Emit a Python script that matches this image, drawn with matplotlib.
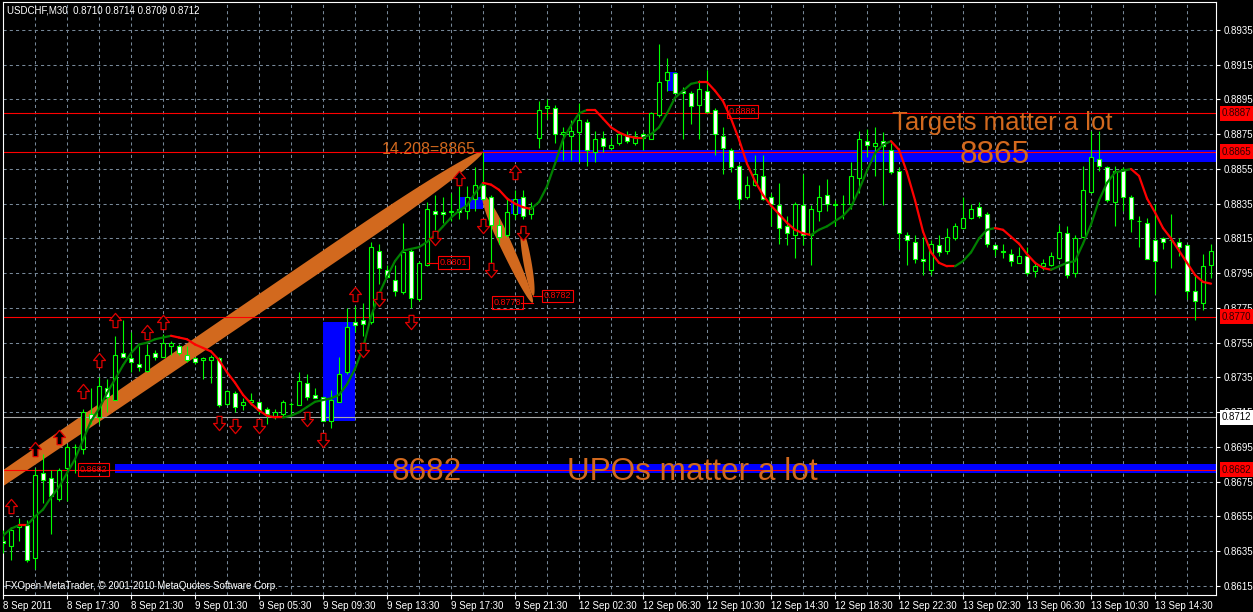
import numpy as np
import matplotlib.pyplot as plt
from matplotlib.patches import Rectangle, Polygon
from matplotlib.path import Path
from matplotlib.collections import LineCollection
from matplotlib.ticker import FormatStrFormatter
from matplotlib.transforms import blended_transform_factory

plt.rcParams['font.family'] = ['Liberation Sans', 'DejaVu Sans']

# -----------------------
# Candle data (USDCHF M30)
# -----------------------
opens = [
    .8641, .8638, .8649, .8650, .8631, .8680, .8677, .8665, .8683, .8695,
    .8694, .8714, .8712, .8729, .8722, .8749, .8746, .8743, .8739, .8749,
    .8747, .8753, .8753, .8748, .8746, .8745, .8745, .8746, .8720, .8726,
    .8719, .8721, .8721, .8717, .8713, .8714, .8720, .8719, .8732, .8725,
    .8724, .8710, .8721, .8738, .8767, .8768, .8767, .8808, .8797, .8791,
    .8784, .8808, .8780, .8800, .8831, .8830, .8830, .8832, .8831, .8838,
    .8846, .8839, .8823, .8817, .8829, .8839, .8829, .8873, .8890, .8890,
    .8875, .8874, .8876, .8882, .8865, .8873, .8867, .8870, .8874, .8870,
    .8875, .8872, .8886, .8906, .8910, .8900, .8899, .8892, .8900, .8889,
    .8874, .8866, .8857, .8839, .8846, .8851, .8839, .8834, .8822, .8817,
    .8834, .8817, .8831, .8840, .8835, .8835, .8835, .8850, .8871, .8868,
    .8871, .8866, .8854, .8817, .8813, .8803, .8797, .8811, .8808, .8815,
    .8821, .8827, .8833, .8829, .8811, .8808, .8806, .8801, .8805, .8796,
    .8799, .8800, .8804, .8818, .8795, .8816, .8842, .8861, .8856, .8836,
    .8855, .8839, .8825, .8824, .8814, .8815, .8814, .8813, .8811, .8785,
    .8778, .8800]
highs = [
    .8647, .8649, .8654, .8653, .8683, .8691, .8682, .8683, .8697, .8697,
    .8717, .8729, .8735, .8734, .8759, .8768, .8761, .8753, .8754, .8751,
    .8760, .8756, .8754, .8753, .8747, .8747, .8748, .8747, .8728, .8727,
    .8723, .8726, .8721, .8718, .8717, .8722, .8721, .8738, .8737, .8729,
    .8724, .8728, .8747, .8775, .8776, .8778, .8813, .8812, .8800, .8800,
    .8824, .8809, .8802, .8836, .8840, .8839, .8841, .8845, .8845, .8856,
    .8865, .8840, .8826, .8838, .8843, .8843, .8836, .8894, .8895, .8892,
    .8879, .8883, .8893, .8884, .8877, .8877, .8873, .8876, .8877, .8877,
    .8876, .8888, .8927, .8919, .8911, .8902, .8900, .8906, .8912, .8890,
    .8879, .8867, .8858, .8851, .8863, .8863, .8841, .8847, .8828, .8836,
    .8852, .8834, .8846, .8849, .8837, .8840, .8859, .8877, .8878, .8879,
    .8876, .8870, .8856, .8819, .8817, .8816, .8814, .8817, .8821, .8824,
    .8839, .8835, .8836, .8830, .8812, .8812, .8809, .8810, .8810, .8801,
    .8803, .8807, .8823, .8822, .8817, .8857, .8877, .8877, .8857, .8857,
    .8856, .8840, .8828, .8827, .8835, .8816, .8829, .8815, .8812, .8794,
    .8806, .8812]
lows = [
    .8634, .8630, .8641, .8629, .8625, .8663, .8645, .8664, .8664, .8680,
    .8691, .8708, .8708, .8715, .8722, .8746, .8738, .8739, .8738, .8745,
    .8747, .8748, .8748, .8744, .8743, .8734, .8732, .8718, .8719, .8715,
    .8716, .8719, .8714, .8708, .8711, .8713, .8713, .8719, .8722, .8723,
    .8710, .8706, .8721, .8737, .8761, .8759, .8766, .8789, .8792, .8782,
    .8783, .8775, .8779, .8799, .8820, .8824, .8825, .8826, .8826, .8831,
    .8837, .8795, .8812, .8816, .8826, .8826, .8826, .8867, .8884, .8870,
    .8860, .8860, .8859, .8857, .8859, .8865, .8866, .8869, .8870, .8869,
    .8866, .8872, .8885, .8900, .8899, .8872, .8881, .8872, .8887, .8863,
    .8852, .8853, .8832, .8838, .8845, .8837, .8822, .8812, .8811, .8804,
    .8811, .8800, .8825, .8831, .8822, .8826, .8832, .8841, .8862, .8851,
    .8834, .8852, .8809, .8800, .8801, .8794, .8794, .8805, .8806, .8814,
    .8821, .8826, .8827, .8810, .8805, .8804, .8799, .8801, .8794, .8793,
    .8797, .8799, .8803, .8792, .8793, .8816, .8841, .8854, .8836, .8822,
    .8831, .8819, .8810, .8803, .8783, .8809, .8798, .8805, .8780, .8768,
    .8774, .8792]
closes = [
    .8640, .8647, .8650, .8630, .8679, .8676, .8667, .8682, .8695, .8695,
    .8715, .8711, .8730, .8724, .8748, .8747, .8744, .8741, .8748, .8747,
    .8755, .8755, .8749, .8745, .8744, .8746, .8747, .8719, .8727, .8718,
    .8721, .8722, .8716, .8714, .8715, .8721, .8720, .8733, .8724, .8723,
    .8710, .8722, .8737, .8764, .8765, .8766, .8810, .8798, .8793, .8785,
    .8807, .8781, .8801, .8832, .8829, .8829, .8831, .8830, .8839, .8846,
    .8838, .8823, .8816, .8830, .8838, .8828, .8833, .8889, .8891, .8875,
    .8876, .8877, .8883, .8866, .8872, .8868, .8869, .8875, .8871, .8874,
    .8873, .8887, .8905, .8911, .8899, .8899, .8891, .8901, .8888, .8875,
    .8867, .8856, .8838, .8846, .8852, .8838, .8835, .8821, .8818, .8835,
    .8817, .8832, .8839, .8835, .8834, .8835, .8851, .8872, .8869, .8870,
    .8868, .8853, .8818, .8814, .8803, .8802, .8812, .8807, .8816, .8822,
    .8827, .8832, .8828, .8812, .8809, .8807, .8802, .8805, .8795, .8799,
    .8801, .8805, .8819, .8794, .8815, .8843, .8862, .8857, .8837, .8854,
    .8839, .8826, .8825, .8803, .8802, .8813, .8814, .8810, .8785, .8779,
    .8799, .8808]

# smoothed trend line (green rising, red falling)
ma_values = [
    .8644, .8648, .8650, .8650, .8655, .8659, .8666, .8672, .8680, .8688,
    .8699, .8710, .8717, .8726, .8734, .8742, .8749, .8754, .8755, .8757,
    .8758, .8759, .8758, .8757, .8754, .8752, .8750, .8745, .8738, .8732,
    .8725, .8720, .8716, .8713, .8712, .8712, .8713, .8715, .8718, .8721,
    .8722, .8723, .8725, .8731, .8740, .8752, .8770, .8783, .8793, .8802,
    .8808, .8809, .8810, .8813, .8817, .8822, .8827, .8831, .8834, .8841,
    .8847, .8846, .8843, .8838, .8835, .8833, .8832, .8836, .8845, .8858,
    .8872, .8880, .8887, .8889, .8889, .8884, .8879, .8876, .8874, .8873,
    .8873, .8875, .8879, .8887, .8896, .8900, .8904, .8905, .8905, .8900,
    .8894, .8884, .8872, .8858, .8848, .8840, .8834, .8829, .8824, .8820,
    .8818, .8817, .8820, .8822, .8825, .8828, .8833, .8843, .8854, .8864,
    .8869, .8871, .8866, .8853, .8837, .8819, .8807, .8801, .8799, .8799,
    .8802, .8807, .8815, .8820, .8821, .8820, .8816, .8812, .8806, .8801,
    .8798, .8797, .8799, .8801, .8802, .8812, .8823, .8837, .8847, .8853,
    .8854, .8855, .8851, .8838, .8830, .8821, .8815, .8808, .8801, .8794,
    .8790, .8789]

time_labels = ['8 Sep 2011', '8 Sep 17:30', '8 Sep 21:30', '9 Sep 01:30', '9 Sep 05:30',
               '9 Sep 09:30', '9 Sep 13:30', '9 Sep 17:30', '9 Sep 21:30', '12 Sep 02:30',
               '12 Sep 06:30', '12 Sep 10:30', '12 Sep 14:30', '12 Sep 18:30', '12 Sep 22:30',
               '13 Sep 02:30', '13 Sep 06:30', '13 Sep 10:30', '13 Sep 14:30']
price_ticks = [0.8615, 0.8635, 0.8655, 0.8675, 0.8695, 0.8715, 0.8735, 0.8755, 0.8775,
               0.8795, 0.8815, 0.8835, 0.8855, 0.8875, 0.8895, 0.8915, 0.8935]

# horizontal levels
level_lines = [0.8887, 0.8865, 0.8770, 0.8682]
bid_price = 0.8712

# blue zones: bar from, bar to, price low, price high
zones = [(40, 44, 0.8710, 0.8767), (57, 60, 0.8832, 0.8839), (63.5, 65, 0.8829, 0.8838),
         (83, 84.2, 0.8900, 0.8911), (60, 160, 0.8859, 0.8866), (14, 160, 0.8680, 0.8685)]

# orange drawn shapes: start bar, start price, end bar, end price
shape_starts = [(-30, 0.8583), (60, 0.8840), (64.8, 0.8821)]
shape_ends = [(60, 0.8865), (66.2, 0.8778), (66.3, 0.8782)]

# fractal arrows
up_bars = [1, 4, 7, 10, 12, 14, 18, 20, 44, 57, 64]
up_prices = [.8661, .8694, .8701, .8727, .8745, .8768, .8761, .8767, .8783, .8850, .8853]
down_bars = [27, 29, 32, 38, 40, 45, 47, 51, 54, 60, 61, 65]
down_prices = [.8709, .8707, .8707, .8711, .8699, .8751, .8780, .8767, .8815, .8822, .8797, .8818]

# boxed price labels on chart
tag_bars = [9.6, 54.6, 61.3, 67.6, 90.7]
tag_prices = [0.8682, 0.8801, 0.8778, 0.8782, 0.8888]
stub_from = [53, 64.8, 66.3]
stub_to = [54.4, 66.2, 67.4]
stub_prices = [0.8801, 0.8778, 0.8782]

# -----------------------
# Figure
# -----------------------
W, H = 1253, 612
fig = plt.figure(figsize=(W / 100, H / 100), dpi=100, facecolor='black')
ax = fig.add_axes([2.5 / W, 17.5 / H, 1213 / W, 592.5 / H], facecolor='black')
xmin, xmax = -0.0625, 151.56
ymin, ymax = 0.86101, 0.89511
ax.set_xlim(xmin, xmax)
ax.set_ylim(ymin, ymax)

LIME = '#00ff00'
ORANGE = '#d2691e'

# zones (background)
for b0, b1, p0, p1 in zones:
    ax.add_patch(Rectangle((b0, p0), b1 - b0, p1 - p0, facecolor='#0000ff',
                           edgecolor='none', zorder=1))

# orange tapered shapes
ppx = ax.bbox.width / (xmax - xmin)
ppy = ax.bbox.height / (ymax - ymin)
half_widths = [8.3, 6.0, 4.0]
peaks = [0.83, 0.35, 0.5]
for (b0, p0), (b1, p1), hw0, pk in zip(shape_starts, shape_ends, half_widths, peaks):
    x0, y0, x1, y1 = b0 * ppx, p0 * ppy, b1 * ppx, p1 * ppy
    s = np.linspace(0, 1, 300)
    rel = np.where(s < pk, (s - pk) / pk, (s - pk) / (1 - pk))
    hw = hw0 * np.sqrt(np.clip(1 - rel ** 2, 0, None))
    dx, dy = x1 - x0, y1 - y0
    L = np.hypot(dx, dy)
    nx, ny = -dy / L, dx / L
    cx, cy = x0 + s * dx, y0 + s * dy
    top = np.column_stack([cx + hw * nx, cy + hw * ny])
    bot = np.column_stack([cx - hw * nx, cy - hw * ny])
    pts = np.vstack([top, bot[::-1]])
    pts[:, 0] /= ppx
    pts[:, 1] /= ppy
    ax.add_patch(Polygon(pts, closed=True, facecolor=ORANGE, edgecolor='none', zorder=1.5))

# levels
for p in level_lines:
    ax.axhline(p, color='#ff0000', lw=0.8, zorder=2)
ax.axhline(bid_price, color='#a8a8a8', lw=0.8, zorder=2)

# candles
x = np.arange(len(opens))
o, h, l, c = (np.array(v) for v in (opens, highs, lows, closes))
ax.vlines(x, l, h, color=LIME, lw=0.8, zorder=3)
doji = np.isclose(o, c)
bull = (c > o) & ~doji
bear = (c < o) & ~doji
ax.bar(x[bull], (c - o)[bull], bottom=o[bull], width=0.62, facecolor='black',
       edgecolor=LIME, lw=0.8, zorder=3.5)
ax.bar(x[bear], (o - c)[bear], bottom=c[bear], width=0.62, facecolor='white',
       edgecolor=LIME, lw=0.8, zorder=3.5)
ax.hlines(o[doji], x[doji] - 0.31, x[doji] + 0.31, color=LIME, lw=0.8, zorder=3.5)

# trend line
ma = np.array(ma_values)
pts = np.column_stack([x, ma])
segs = np.stack([pts[:-1], pts[1:]], axis=1)
seg_colors = ['#ff0000' if ma[i + 1] <= ma[i] else '#008000' for i in range(len(ma) - 1)]
ax.add_collection(LineCollection(segs, colors=seg_colors, linewidths=1.6,
                                 capstyle='round', zorder=4))

# arrows
up_path = Path([(-0.17, -0.5), (0.17, -0.5), (0.17, 0.0), (0.42, 0.0), (0.0, 0.5),
                (-0.42, 0.0), (-0.17, 0.0), (-0.17, -0.5)], closed=True)
down_path = Path([(vx, -vy) for vx, vy in up_path.vertices], closed=True)
ax.scatter(up_bars, up_prices, marker=up_path, s=105, facecolor='black',
           edgecolor='#e00000', linewidths=0.9, zorder=5)
ax.scatter(down_bars, down_prices, marker=down_path, s=105, facecolor='black',
           edgecolor='#e00000', linewidths=0.9, zorder=5)

# boxed labels and stubs
for b0, b1, p in zip(stub_from, stub_to, stub_prices):
    ax.plot([b0, b1], [p, p], color='#ff0000', lw=0.8, zorder=5)
for b, p in zip(tag_bars, tag_prices):
    ax.text(b, p, f'{p:.4f}', color='#ff0000', fontsize=6.5, ha='left', va='center',
            bbox=dict(boxstyle='square,pad=0.2', facecolor='none', edgecolor='#ff0000', lw=0.8),
            zorder=6)

# orange text notes
ax.text(47.3, 0.88636, '14.208=8865', color=ORANGE, fontsize=11.5, ha='left', va='baseline', zorder=6)
ax.text(111.1, 0.88774, 'Targets matter a lot', color=ORANGE, fontsize=18.5, ha='left',
        va='baseline', zorder=6)
ax.text(119.6, 0.88583, '8865', color=ORANGE, fontsize=22.7, ha='left', va='baseline', zorder=6)
ax.text(48.6, 0.86760, '8682', color=ORANGE, fontsize=22.7, ha='left', va='baseline', zorder=6)
ax.text(70.5, 0.86760, 'UPOs matter a lot', color=ORANGE, fontsize=22.7, ha='left',
        va='baseline', zorder=6)

# -----------------------
# Axes, grid, ticks
# -----------------------
grid_style = dict(color='#778899', lw=0.75, linestyle=(0, (3, 3)))
ax.set_axisbelow(True)
ax.set_xticks(np.arange(0, 152, 8))
ax.set_xticks(np.arange(0, 152, 4), minor=True)
ax.set_xticklabels(time_labels)
for t in ax.get_xticklabels():
    t.set_horizontalalignment('left')
ax.set_yticks(price_ticks)
ax.yaxis.set_major_formatter(FormatStrFormatter('%.4f'))
ax.grid(True, which='both', axis='x', **grid_style)
ax.grid(True, which='major', axis='y', **grid_style)
ax.tick_params(axis='y', left=False, labelleft=False, right=True, labelright=True,
               length=3, width=0.8, color='white', labelcolor='white', labelsize=7, pad=3)
ax.tick_params(axis='x', which='major', length=3, width=0.8, color='white',
               labelcolor='white', labelsize=7, pad=1.5)
ax.tick_params(axis='x', which='minor', length=0)
for sp in ax.spines.values():
    sp.set_color('white')
    sp.set_linewidth(0.8)

# price tags on the right axis (drawn over the axis labels, as in the terminal)
trans = blended_transform_factory(ax.transAxes, ax.transData)
for p in level_lines:
    ax.text(1.0054, p, f'{p:.4f}', transform=trans, color='#300000', fontsize=7,
            ha='left', va='center', clip_on=False, zorder=10,
            bbox=dict(boxstyle='square,pad=0.25', facecolor='#ff0000', edgecolor='none'))
ax.text(1.0054, bid_price, f'{bid_price:.4f}', transform=trans, color='black', fontsize=7,
        ha='left', va='center', clip_on=False, zorder=10,
        bbox=dict(boxstyle='square,pad=0.25', facecolor='white', edgecolor='none'))

# header / footer
fig.text(7 / W, 1 - 10.5 / H, 'USDCHF,M30  0.8710 0.8714 0.8709 0.8712', color='white',
         fontsize=7, ha='left', va='center')
fig.text(5 / W, 1 - 586 / H, 'FXOpen MetaTrader, \u00a9 2001-2010 MetaQuotes Software Corp.',
         color='white', fontsize=7, ha='left', va='center')

fig.savefig('out.png', dpi=100, facecolor='black')
